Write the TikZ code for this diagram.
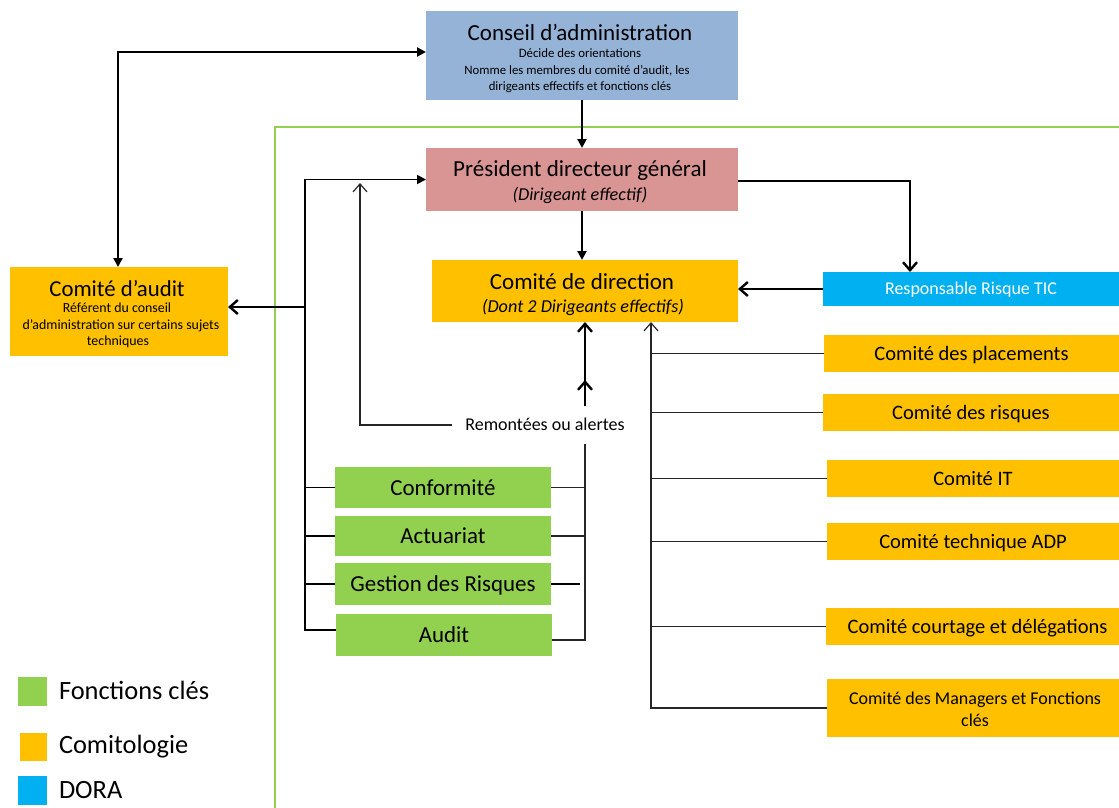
\documentclass[tikz,border=0pt]{standalone}
\usepackage{fontspec}
\setmainfont{Carlito}
\usetikzlibrary{arrows.meta}
\definecolor{cblue}{HTML}{95B3D7}
\definecolor{cpink}{HTML}{D99594}
\definecolor{corange}{HTML}{FFC000}
\definecolor{ccyan}{HTML}{00B0F0}
\definecolor{cgreen}{HTML}{92D050}
\newcommand{\fsz}[1]{\fontsize{#1}{#1}\selectfont}
\tikzset{
  sz/.style={font=\fsz{#1}, text height={0.66*#1pt}, text depth=0pt},
  bx/.style={inner sep=0pt, outer sep=0pt, align=center},
  txt/.style={inner sep=0pt, outer sep=0pt, align=center},
  tri/.style={-{Triangle[length=9pt,width=9pt]}},
  bitri/.style={{Triangle[length=9pt,width=9pt]}-{Triangle[length=9pt,width=9pt]}},
  chev/.style={-{Straight Barb[length=8pt,width=14pt]}},
  thk/.style={line width=2.4pt, black},
  med/.style={line width=1.8pt, black},
  thn/.style={line width=1.2pt, black!85},
  committee/.style={bx, fill=corange, sz=20.5},
  fonction/.style={bx, fill=cgreen, sz=22.9},
}
\begin{document}
\begin{tikzpicture}[x=1pt,y=-1pt]
\useasboundingbox (0,0) rectangle (1119,808);
% green frame
\draw[cgreen, line width=2pt] (275,808) -- (275,127) -- (1119,127);

% boxes
\node[bx, fill=cblue, minimum width=312pt, minimum height=89pt] (ca) at (582,55.5) {};
\node[txt, sz=23] (cat) at (580,33) {Conseil d’administration};
\node[txt, sz=12.8] (ca1) at (580,53.5) {Décide des orientations};
\node[txt, sz=12.8] (ca2) at (577,70) {Nomme les membres du comité d’audit, les};
\node[txt, sz=12.8] (ca3) at (580,86) {dirigeants effectifs et fonctions clés};

\node[bx, fill=cpink, minimum width=312pt, minimum height=63pt] (pdg) at (582,179.5) {};
\node[txt, sz=23] (pdgt) at (580,169) {Président directeur général};
\node[txt, sz=18.2, font=\fsz{18.2}\itshape] (pdgs) at (580,194) {(Dirigeant effectif)};

\node[bx, fill=corange, minimum width=306pt, minimum height=62pt] (cdd) at (585,291) {};
\node[txt, sz=23] (cddt) at (582,282) {Comité de direction};
\node[txt, sz=18.2, font=\fsz{18.2}\itshape] (cdds) at (583,306) {(Dont 2 Dirigeants effectifs)};

\node[bx, fill=ccyan, text=white, sz=18, minimum width=296pt, minimum height=34pt] (tic) at (971,289) {Responsable Risque TIC};

\node[bx, fill=corange, minimum width=218pt, minimum height=89pt] (aud) at (119,311.5) {};
\node[txt, sz=22.8] (audt) at (117,289) {Comité d’audit};
\node[txt, sz=13.9] (aud1) at (117,308) {Référent du conseil};
\node[txt, sz=13.9] (aud2) at (121,325) {d’administration sur certains sujets};
\node[txt, sz=13.9] (aud3) at (118,341) {techniques};

\node[committee, minimum width=295pt, minimum height=37pt] (place) at (971.5,353.5) {Comité des placements};
\node[committee, minimum width=296pt, minimum height=37pt] (risq) at (971,412.5) {Comité des risques};
\node[committee, minimum width=292pt, minimum height=37pt] (cit) at (973,478.5) {Comité IT};
\node[committee, minimum width=292pt, minimum height=37pt] (adp) at (973,541.5) {Comité technique ADP};
\node[committee, minimum width=293pt, minimum height=37pt] (court) at (972.5,626.5) {\hspace*{10pt}Comité courtage et délégations};
\node[bx, fill=corange, minimum width=292pt, minimum height=58pt] (man) at (973,708) {};
\node[inner sep=0pt, align=center, font=\fontsize{18}{22}\selectfont] (mant) at (975,709) {Comité des Managers et Fonctions\\clés};

\node[fonction, minimum width=216pt, minimum height=41pt] (conf) at (443,487.5) {Conformité};
\node[fonction, minimum width=216pt, minimum height=40pt] (act) at (443,536) {Actuariat};
\node[fonction, minimum width=216pt, minimum height=42pt] (gest) at (443,584) {Gestion des Risques};
\node[fonction, minimum width=216pt, minimum height=42pt] (audf) at (444,635) {Audit};

\node[txt, sz=18, inner xsep=13pt, inner ysep=13pt] (rem) at (545,425) {Remontées ou alertes};

% legend
\node[bx, fill=cgreen, minimum width=29pt, minimum height=29pt] (lg1) at (32.5,691.5) {};
\node[txt, sz=26.4, anchor=west] (lt1) at (59,691) {Fonctions clés};
\node[bx, fill=corange, minimum width=27pt, minimum height=28pt] (lg2) at (33.5,747) {};
\node[txt, sz=26.4, anchor=west] (lt2) at (59,745) {Comitologie};
\node[bx, fill=ccyan, minimum width=29pt, minimum height=29pt] (lg3) at (32.5,790.5) {};
\node[txt, sz=26.4, anchor=west] (lt3) at (59,790) {DORA};

% coordinates
\coordinate (b1) at (118,52);
\coordinate (b4) at (910,181);
\coordinate (lb) at (305,0);
\coordinate (r1) at (360,183);
\coordinate (rb) at (585,0);
\coordinate (rb2) at (580,0);
\coordinate (m1) at (585,380);
\coordinate (rbus) at (651,0);

% connectors
\draw[thk, bitri] (ca.west |- b1) -- (b1) -- (b1 |- aud.north);
\draw[thk, tri] (ca.south) -- (pdg.north);
\draw[thk, tri] (pdg.south) -- (pdg.south |- cdd.north);
\draw[thk, chev] (pdg.east |- b4) -- (b4) -- (b4 |- tic.north);
\draw[thk, chev] (tic.west) -- (tic.west -| cdd.east);

% left bus
\draw[med, tri] (audf.west |- 0,630) -| (lb |- pdg.west) -- (pdg.west);
\draw[med] (lb |- conf.west) -- (conf.west);
\draw[med] (lb |- act.west) -- (act.west);
\draw[med] (lb |- gest.west) -- (gest.west);
\draw[thk, chev] (lb |- 0,307) -- (aud.east |- 0,307);

% remontees
\draw[thn, chev] (rem.west) -| (r1);
\draw[thn] (audf.east |- 0,640) -| (rb |- rem.south);
\draw[thn] (conf.east) -- (conf.east -| rb);
\draw[thn] (act.east) -- (act.east -| rb);
\draw[thk] (gest.east) -- (gest.east -| rb2);
\draw[thk, chev] (rb |- rem.north) -- (rb |- cdd.south);
\draw[thk, chev] (rb |- rem.north) -- (m1);

% right bus
\draw[thn, chev] (man.west) -| (rbus |- cdd.south);
\draw[thn] (rbus |- place.west) -- (place.west);
\draw[thn] (rbus |- risq.west) -- (risq.west);
\draw[thn] (rbus |- cit.west) -- (cit.west);
\draw[thn] (rbus |- adp.west) -- (adp.west);
\draw[thn] (rbus |- court.west) -- (court.west);
\end{tikzpicture}
\end{document}
